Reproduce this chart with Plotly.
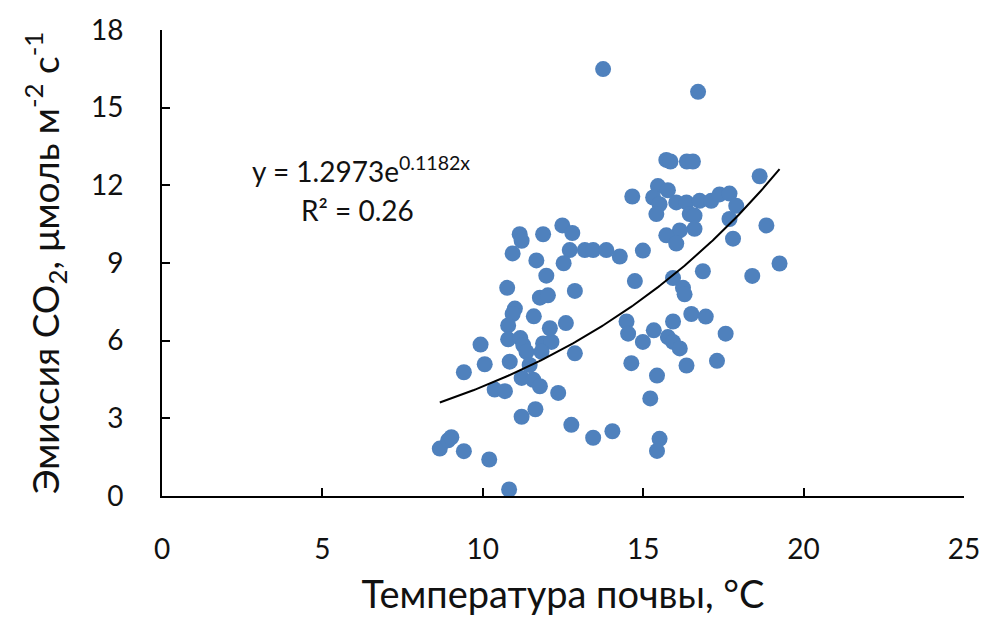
import numpy as np
import plotly.graph_objects as go

# Soil temperature, °C
temperature = [8.66, 8.92, 9.02, 9.41, 10.20, 10.82, 9.41, 9.93, 10.06, 10.37,
               10.69, 10.76, 10.93, 11.00, 10.93, 10.79, 10.79, 10.84, 11.15, 11.21,
               11.17, 11.26, 11.36, 11.21, 11.21, 11.46, 11.57, 11.78, 11.59, 11.67,
               11.64, 11.78, 12.03, 11.88, 11.98, 11.88, 12.14, 11.83, 12.09, 12.35,
               12.48, 12.79, 12.71, 12.52, 12.59, 12.87, 12.87, 12.76, 13.18, 13.44,
               13.44, 13.85, 14.04, 14.27, 13.75, 14.99, 14.74, 14.48, 14.53, 14.63,
               14.66, 14.99, 15.22, 15.43, 15.33, 15.51, 15.43, 15.46, 15.77, 15.31,
               15.51, 15.41, 15.72, 15.85, 16.36, 16.55, 16.03, 16.35, 16.76, 17.12,
               17.38, 17.69, 17.90, 16.45, 16.60, 17.69, 16.60, 16.14, 15.72, 16.03,
               17.80, 15.93, 16.24, 16.29, 16.86, 16.50, 16.95, 15.93, 15.77, 15.93,
               16.14, 16.35, 17.30, 17.57, 16.71, 18.63, 18.84, 19.25, 18.40]

# CO2 emission, µmol m-2 s-1
emission = [1.83, 2.15, 2.27, 1.73, 1.41, 0.25, 4.78, 5.85, 5.09, 4.11,
            4.05, 8.04, 9.37, 7.24, 7.03, 6.59, 6.05, 5.19, 10.11, 9.86,
            6.10, 5.83, 5.57, 4.56, 3.06, 5.06, 4.49, 4.24, 6.94, 9.10,
            3.35, 7.66, 7.75, 10.11, 8.51, 5.89, 5.95, 5.57, 6.48, 3.98,
            10.45, 10.16, 9.50, 8.99, 6.68, 7.92, 5.51, 2.75, 9.50, 9.50,
            2.25, 9.50, 2.50, 9.25, 16.49, 9.48, 8.30, 6.74, 6.27, 5.13,
            11.57, 5.95, 3.77, 4.65, 6.40, 2.21, 1.74, 11.97, 11.81, 11.53,
            11.27, 10.89, 12.98, 12.92, 12.92, 12.92, 11.34, 11.34, 11.40, 11.40,
            11.65, 11.68, 11.21, 10.89, 10.83, 10.70, 10.32, 10.26, 10.07, 9.75,
            9.94, 8.42, 8.04, 7.79, 8.68, 7.03, 6.93, 6.74, 6.14, 5.95,
            5.70, 5.04, 5.22, 6.27, 15.61, 12.35, 10.45, 8.98, 8.50]

# Exponential trendline y = a * exp(b x)
trend_a = 1.2973
trend_b = 0.1182
r_squared = 0.26

x_ticks = [0, 5, 10, 15, 20, 25]
y_ticks = [0, 3, 6, 9, 12, 15, 18]

FONT = "Lato"
TXT = "#111"

xt = np.linspace(min(temperature), max(temperature), 200)
yt = trend_a * np.exp(trend_b * xt)

fig = go.Figure()
fig.add_trace(go.Scatter(
    x=temperature, y=emission, mode="markers",
    marker=dict(size=16, color="#4F81BD", line=dict(width=0)),
    showlegend=False, hoverinfo="x+y"))
fig.add_trace(go.Scatter(
    x=xt, y=yt, mode="lines",
    line=dict(color="black", width=2),
    showlegend=False, hoverinfo="skip"))

fig.add_annotation(
    x=6.2, y=12.6, xref="x", yref="y",
    text=f"y = {trend_a}e<sup>{trend_b}x</sup>",
    showarrow=False, font=dict(family=FONT, size=28, color=TXT),
    xanchor="center", yanchor="middle")
fig.add_annotation(
    x=6.1, y=11.05, xref="x", yref="y",
    text=f"R² = {r_squared}",
    showarrow=False, font=dict(family=FONT, size=28, color=TXT),
    xanchor="center", yanchor="middle")

fig.update_layout(
    width=1003, height=623,
    margin=dict(l=162, r=39, t=23, b=127),
    paper_bgcolor="white", plot_bgcolor="white",
    font=dict(family=FONT, color=TXT),
)
fig.update_xaxes(
    range=[0, 25], tickvals=x_ticks, ticktext=[str(v) for v in x_ticks],
    ticks="inside", ticklen=8, tickwidth=2, tickcolor="black",
    showline=True, linecolor="black", linewidth=2,
    showgrid=False, zeroline=False,
    tickfont=dict(family=FONT, size=28, color=TXT),
    ticklabelstandoff=27,
    title=dict(text="Температура почвы, °С", font=dict(family=FONT, size=38, color=TXT), standoff=18),
)
fig.update_yaxes(
    range=[0, 18], tickvals=y_ticks, ticktext=[str(v) for v in y_ticks],
    ticks="inside", ticklen=8, tickwidth=2, tickcolor="black",
    showline=True, linecolor="black", linewidth=2,
    showgrid=False, zeroline=False,
    tickfont=dict(family=FONT, size=28, color=TXT),
    ticklabelstandoff=31,
    title=dict(text="Эмиссия CO<sub>2</sub>, μмоль м<sup>-2</sup> с<sup>-1</sup>",
               font=dict(family=FONT, size=37, color=TXT), standoff=20),
)

fig.write_html("out.html")
